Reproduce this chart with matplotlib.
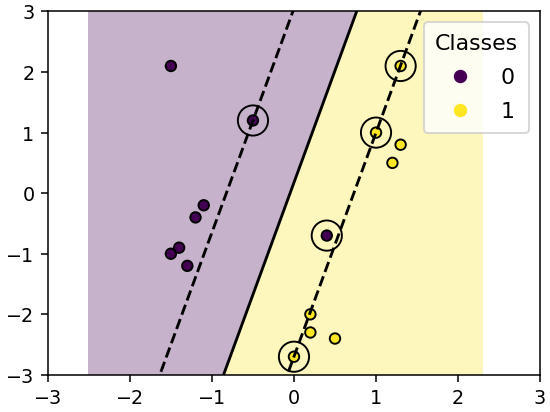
import numpy as np
import matplotlib
matplotlib.use("Agg")
import matplotlib.pyplot as plt

# Sample points (x1, x2) and class labels
x1 = [0.4, -1.5, -1.4, -1.3, -1.1, -1.2, -0.5, -1.5, 1.0, 1.3, 1.2, 0.2, 0.5, 0.2, 0.0, 1.3]
x2 = [-0.7, -1.0, -0.9, -1.2, -0.2, -0.4, 1.2, 2.1, 1.0, 0.8, 0.5, -2.0, -2.4, -2.3, -2.7, 2.1]
labels = [0, 0, 0, 0, 0, 0, 0, 0, 1, 1, 1, 1, 1, 1, 1, 1]

# Support vectors
sv_x1 = [0.4, -0.5, 1.0, 0.0, 1.3]
sv_x2 = [-0.7, 1.2, 1.0, -2.7, 2.1]

# Linear decision function f = w1*x1 + w2*x2 + b (estimated)
w1, w2, b0 = 1.287, -0.348, 0.061

X1 = np.array(x1)
X2 = np.array(x2)
Y = np.array(labels)

fig, ax = plt.subplots(figsize=(4, 3), dpi=137.5)
fig.subplots_adjust(left=0.087, right=0.982, top=0.971, bottom=0.09)

gx = np.linspace(X1.min() - 1, X1.max() + 1, 400)
gy = np.linspace(X2.min() - 1, X2.max() + 1, 400)
GX, GY = np.meshgrid(gx, gy)
F = w1 * GX + w2 * GY + b0
pred = (F > 0).astype(float)

ax.pcolormesh(GX, GY, pred, cmap="viridis", alpha=0.3, shading="auto")
ax.contour(GX, GY, F, levels=[-1, 0, 1], colors=["k", "k", "k"],
           linestyles=["--", "-", "--"])

ax.scatter(sv_x1, sv_x2, s=250, facecolors="none", edgecolors="k")
sc = ax.scatter(X1, X2, c=Y, s=30, edgecolors="k", cmap="viridis")
ax.legend(*sc.legend_elements(), loc="upper right", title="Classes",
          fontsize=11.5, title_fontsize=11.5, borderpad=0.5, labelspacing=0.65)

ax.set_xlim(-3, 3)
ax.set_ylim(-3, 3)

fig.savefig("out.png", dpi=137.5)
